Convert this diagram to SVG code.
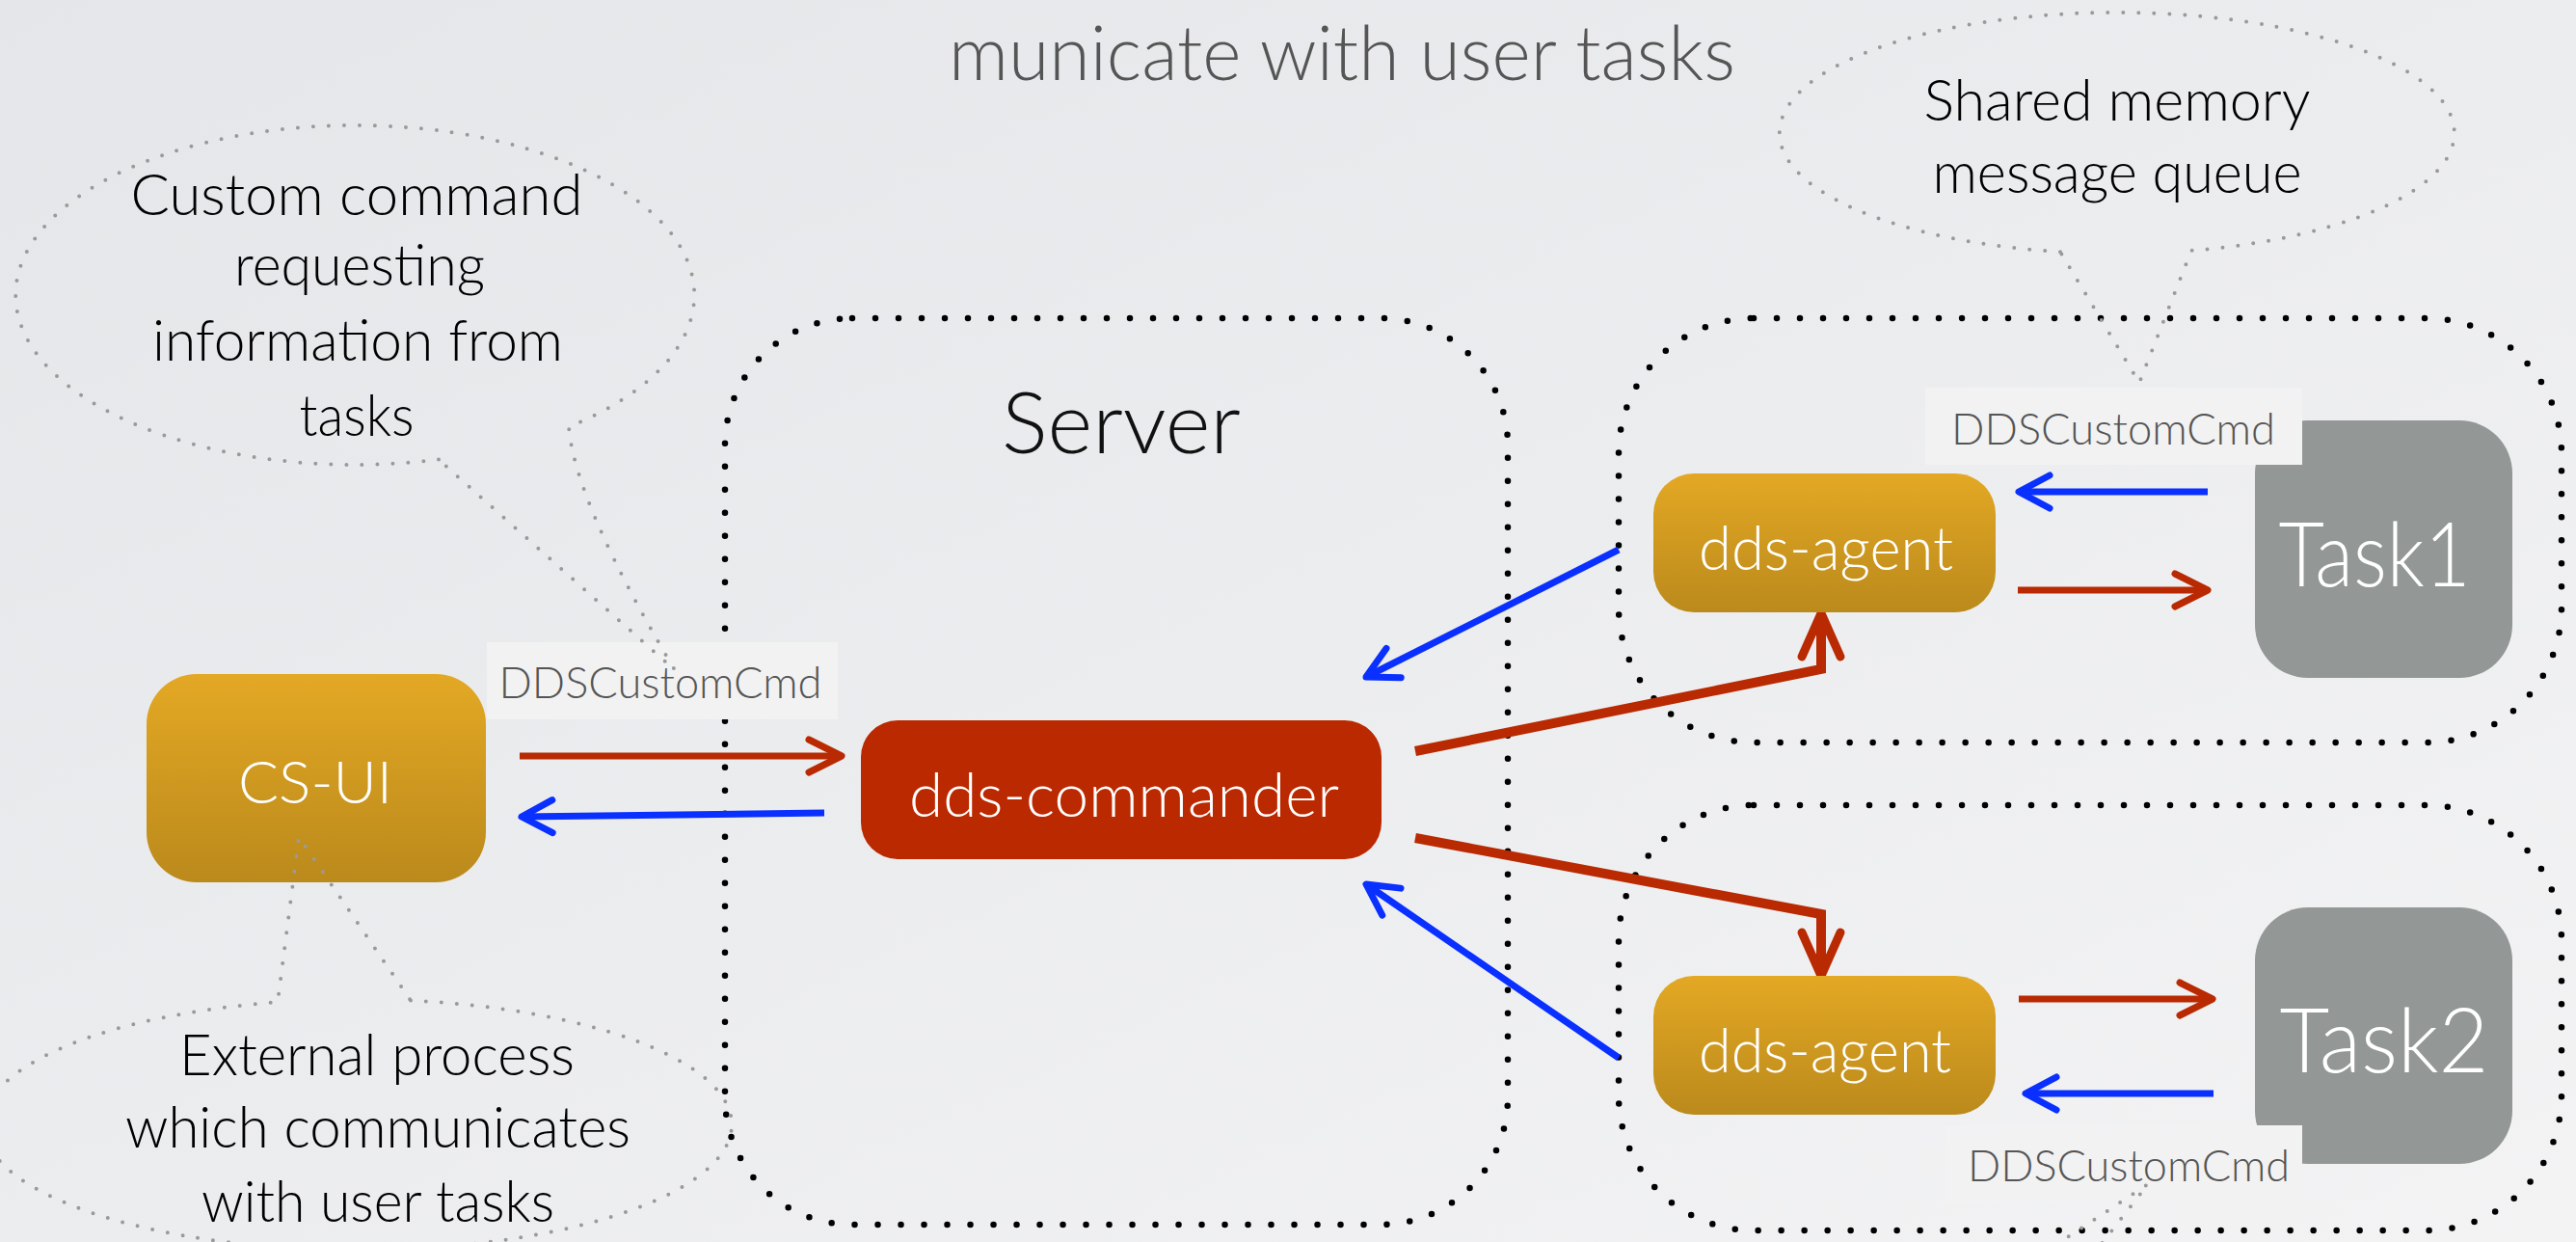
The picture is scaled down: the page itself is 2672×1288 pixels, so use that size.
<svg xmlns="http://www.w3.org/2000/svg" width="2672" height="1288" viewBox="0 0 2672 1288">
  <style>
    text { font-family: "Lato Light", "Roboto Light", "Open Sans Light", Lato, "Liberation Sans", sans-serif; font-weight: 300; }
    .cont { fill: none; stroke: #000; stroke-width: 6.5; stroke-dasharray: 0 24; stroke-linecap: round; }
    .callout { fill: none; stroke: #9a9a9a; stroke-width: 4; stroke-dasharray: 0 16; stroke-linecap: round; stroke-linejoin: round; }
    .note { font-size: 60px; fill: #000; text-anchor: middle; }
    .lbl-bg { fill: #F2F2F2; }
    .lbl { font-size: 45px; fill: #555; text-anchor: middle; }
    .nodetxt { fill: #fff; text-anchor: middle; }
    .red { fill: none; stroke: #B92A02; stroke-width: 7; }
    .redL { fill: none; stroke: #B92A02; stroke-width: 10; stroke-linejoin: miter; }
    .blue { fill: none; stroke: #0A30FF; stroke-width: 7; }
  </style>
  <defs>
    <linearGradient id="bg" x1="0" y1="0" x2="1" y2="1">
      <stop offset="0" stop-color="#E4E6E9"/>
      <stop offset="1" stop-color="#F3F3F4"/>
    </linearGradient>
    <linearGradient id="gold" x1="0" y1="0" x2="0" y2="1">
      <stop offset="0" stop-color="#E3A824"/>
      <stop offset="1" stop-color="#BB8A1C"/>
    </linearGradient>
    <marker id="hRed" markerUnits="userSpaceOnUse" orient="auto" overflow="visible" markerWidth="1" markerHeight="1" refX="0" refY="0">
      <path d="M-34,-17 L0,0 L-34,17" fill="none" stroke="#B92A02" stroke-width="7" stroke-linecap="round" stroke-linejoin="round"/>
    </marker>
    <marker id="hBlue" markerUnits="userSpaceOnUse" orient="auto" overflow="visible" markerWidth="1" markerHeight="1" refX="0" refY="0">
      <path d="M-32,-17 L0,0 L-32,17" fill="none" stroke="#0A30FF" stroke-width="7" stroke-linecap="round" stroke-linejoin="round"/>
    </marker>
    <marker id="hRedL" markerUnits="userSpaceOnUse" orient="auto" overflow="visible" markerWidth="1" markerHeight="1" refX="0" refY="0">
      <path d="M-45,-20 L0,0 L-45,20" fill="none" stroke="#B92A02" stroke-width="9" stroke-linecap="round" stroke-linejoin="round"/>
    </marker>
  </defs>

  <rect x="0" y="0" width="2672" height="1288" fill="url(#bg)"/>

  <g id="title">
    <text x="1392" y="83" font-size="78" fill="#555" text-anchor="middle" textLength="816" lengthAdjust="spacingAndGlyphs">municate with user tasks</text>
  </g>

  <g id="server">
    <rect class="cont" x="752" y="330" width="812" height="940" rx="132"/>
    <text x="1163" y="470" font-size="88" fill="#111" text-anchor="middle" textLength="248" lengthAdjust="spacingAndGlyphs">Server</text>
  </g>
  <g id="task1-host">
    <rect class="cont" x="1679" y="330" width="978" height="440" rx="140"/>
  </g>
  <g id="task2-host">
    <rect class="cont" x="1679" y="835" width="978" height="441" rx="140"/>
  </g>

  <g id="connectors">
    <path class="red" d="M539,784 L873,784" marker-end="url(#hRed)"/>
    <path class="blue" d="M855,843 L541,847" marker-end="url(#hBlue)"/>
    <path class="redL" d="M1468,779 L1889,694 L1889,636" marker-end="url(#hRedL)"/>
    <path class="blue" stroke-width="6" d="M1679,570 L1417,702" marker-end="url(#hBlue)"/>
    <path class="redL" d="M1468,869 L1889,948 L1889,1012" marker-end="url(#hRedL)"/>
    <path class="blue" stroke-width="6" d="M1679,1097 L1417,917" marker-end="url(#hBlue)"/>
    <path class="blue" d="M2290,510 L2094,510" marker-end="url(#hBlue)"/>
    <path class="red" d="M2093,612 L2290,612" marker-end="url(#hRed)"/>
    <path class="red" d="M2094,1036 L2295,1036" marker-end="url(#hRed)"/>
    <path class="blue" d="M2296,1134 L2101,1134" marker-end="url(#hBlue)"/>
  </g>

  <g id="cs-ui">
    <rect x="152" y="699" width="352" height="216" rx="52" fill="url(#gold)"/>
    <text class="nodetxt" x="327" y="833" font-size="62" textLength="160" lengthAdjust="spacingAndGlyphs">CS-UI</text>
  </g>
  <g id="dds-commander">
    <rect x="893" y="747" width="540" height="144" rx="38" fill="#BB2900"/>
    <text class="nodetxt" x="1166" y="847" font-size="64" textLength="446" lengthAdjust="spacingAndGlyphs">dds-commander</text>
  </g>
  <g id="dds-agent-1">
    <rect x="1715" y="491" width="355" height="144" rx="42" fill="url(#gold)"/>
    <text class="nodetxt" x="1894" y="591" font-size="64" textLength="264" lengthAdjust="spacingAndGlyphs">dds-agent</text>
  </g>
  <g id="dds-agent-2">
    <rect x="1715" y="1012" width="355" height="144" rx="42" fill="url(#gold)"/>
    <text class="nodetxt" x="1893" y="1112" font-size="64" textLength="262" lengthAdjust="spacingAndGlyphs">dds-agent</text>
  </g>
  <g id="task1">
    <rect x="2339" y="436" width="267" height="267" rx="55" fill="#939795"/>
    <text class="nodetxt" x="2463" y="608" font-size="92" textLength="199" lengthAdjust="spacingAndGlyphs">Task1</text>
  </g>
  <g id="task2">
    <rect x="2339" y="941" width="267" height="266" rx="55" fill="#939795"/>
    <text class="nodetxt" x="2473" y="1112" font-size="92" textLength="217" lengthAdjust="spacingAndGlyphs">Task2</text>
  </g>

  <g id="label-left">
    <rect class="lbl-bg" x="505" y="666" width="364" height="80"/>
    <text class="lbl" x="685" y="724" textLength="335" lengthAdjust="spacingAndGlyphs">DDSCustomCmd</text>
  </g>
  <g id="label-task1">
    <rect class="lbl-bg" x="1997" y="402" width="391" height="80"/>
    <text class="lbl" x="2192" y="461" textLength="336" lengthAdjust="spacingAndGlyphs">DDSCustomCmd</text>
  </g>
  <g id="label-task2">
    <rect class="lbl-bg" x="2018" y="1167" width="370" height="80"/>
    <text class="lbl" x="2208" y="1225" textLength="334" lengthAdjust="spacingAndGlyphs">DDSCustomCmd</text>
  </g>

  <g id="callout-custom-command">
    <path class="callout" d="M455,476.5 A352,176 0 1 1 590,442.6 Q596,520 700,695 Z"/>
    <text class="note" x="370" y="223" textLength="469" lengthAdjust="spacingAndGlyphs">Custom command</text>
    <text class="note" x="373" y="296" textLength="260" lengthAdjust="spacingAndGlyphs">requesting</text>
    <text class="note" x="371" y="374" textLength="426" lengthAdjust="spacingAndGlyphs">information from</text>
    <text class="note" x="370" y="452" textLength="119" lengthAdjust="spacingAndGlyphs">tasks</text>
  </g>
  <g id="callout-shared-memory">
    <path class="callout" d="M2137,261.2 A350,125 0 1 1 2273,259.9 L2219,397 Z"/>
    <text class="note" x="2196" y="125" textLength="401" lengthAdjust="spacingAndGlyphs">Shared memory</text>
    <text class="note" x="2196" y="200" textLength="383" lengthAdjust="spacingAndGlyphs">message queue</text>
  </g>
  <g id="callout-external-process">
    <path class="callout" d="M426,1037.6 A388,130 0 1 1 288,1039.3 L310,868 Z"/>
    <text class="note" x="391" y="1115" textLength="410" lengthAdjust="spacingAndGlyphs">External process</text>
    <text class="note" x="392" y="1190" textLength="524" lengthAdjust="spacingAndGlyphs">which communicates</text>
    <text class="note" x="392" y="1267" textLength="366" lengthAdjust="spacingAndGlyphs">with user tasks</text>
  </g>
  <g id="callout-bottom-tail">
    <path class="callout" d="M2119,1300 L2228,1228 L2172,1300"/>
  </g>
</svg>
